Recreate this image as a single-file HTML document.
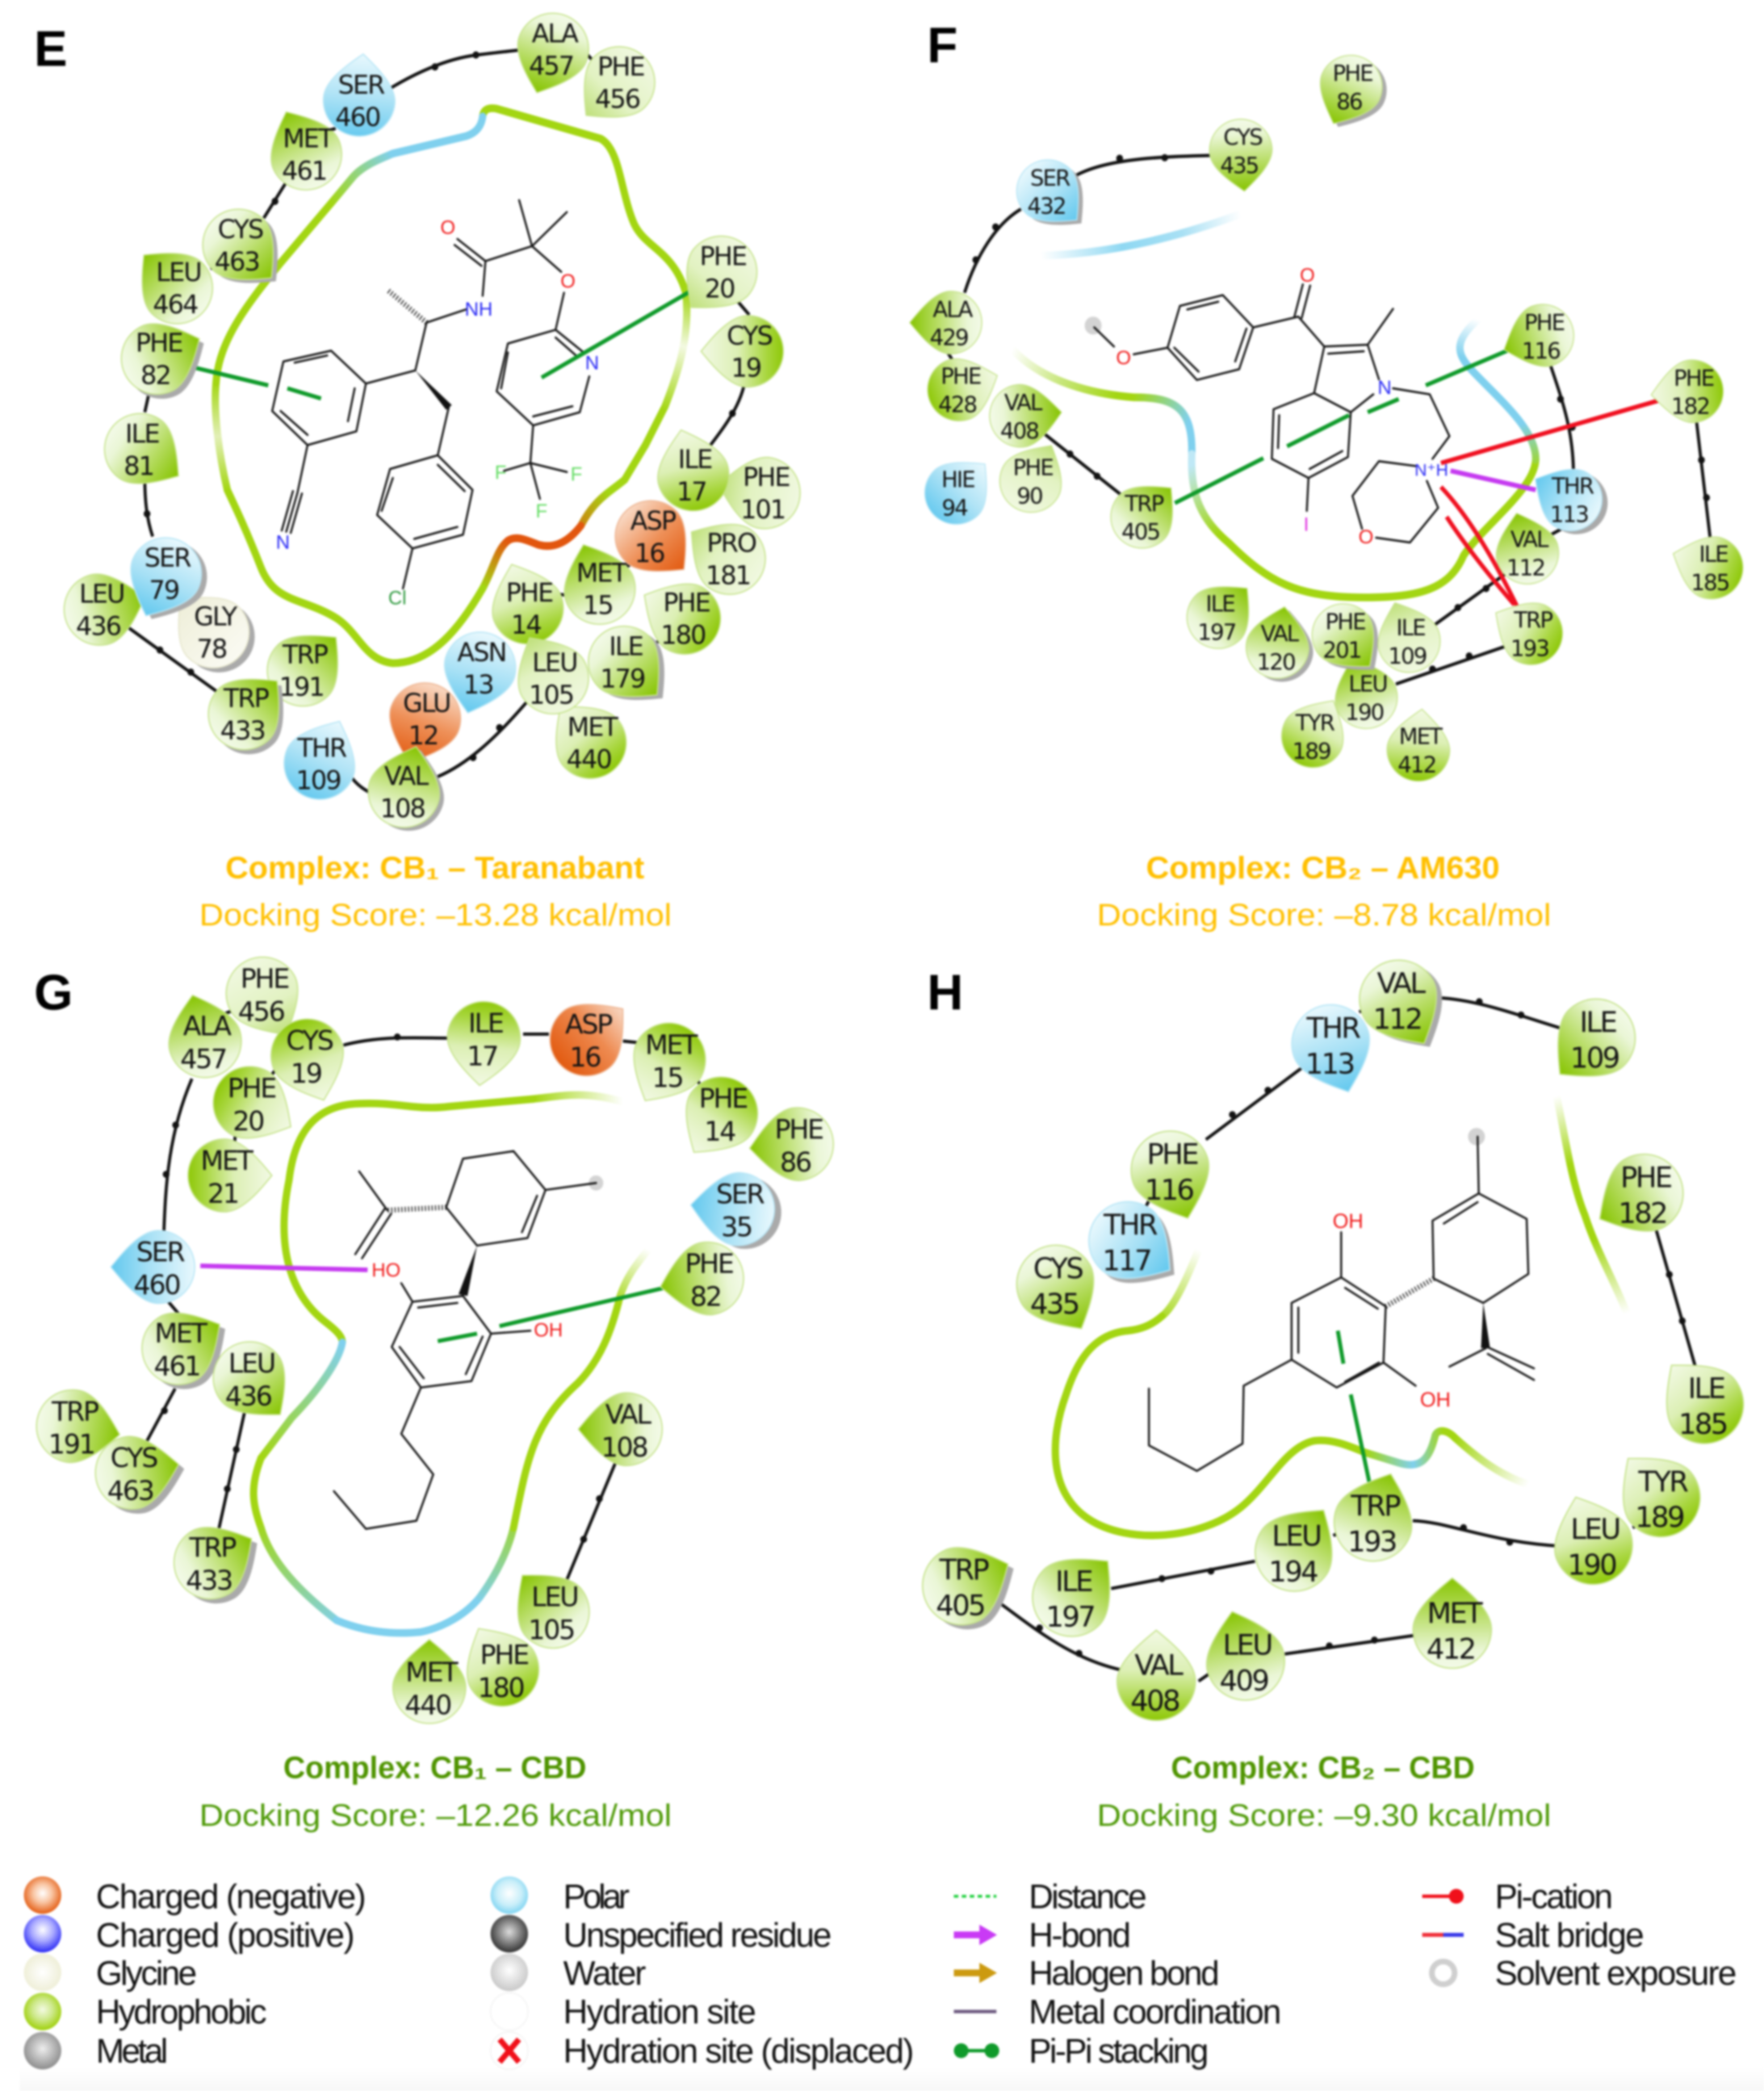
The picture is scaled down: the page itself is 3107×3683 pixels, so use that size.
<!DOCTYPE html>
<html><head><meta charset="utf-8"><style>
html,body{margin:0;padding:0;background:#fff}
svg{display:block;filter:blur(1.8px)}
text{font-family:"DejaVu Sans",sans-serif;text-anchor:middle;fill:#141414}
.E .u{transform:scale(1.0116,.9503)}.F .u{transform:scale(1.007,.9503)}
.G .u{transform:scale(1.0116,.98)}.H .u{transform:scale(1.007,.98)}
.E text{font-size:45px;letter-spacing:-2.5px}.F text{font-size:39px;letter-spacing:-2.5px}
.G text{font-size:47px;letter-spacing:-3px}.H text{font-size:50px;letter-spacing:-3.5px}
.gt{fill:url(#gt);stroke:#c6e38c;stroke-width:2}.go{fill:url(#go);stroke:#c6e38c;stroke-width:2}.gp{fill:url(#gp);stroke:#c6e38c;stroke-width:2}
.bt{fill:url(#bt);stroke:#b8e6f6;stroke-width:2}.bo{fill:url(#bo);stroke:#b8e6f6;stroke-width:2}
.ot{fill:url(#ot);stroke:#eeb795;stroke-width:2}.oo{fill:url(#oo);stroke:#eeb795;stroke-width:2}
.c{fill:url(#c);stroke:#e6e6cc;stroke-width:2}.s{fill:#aaa}
.l{fill:none;stroke:#111;stroke-width:5.5}.bd{fill:none;stroke:#111;stroke-width:12;stroke-linecap:round}
.m{fill:none;stroke:#151515;stroke-width:3.5;stroke-linecap:round;stroke-linejoin:round}
.hash{fill:none;stroke:#222;stroke-width:9;stroke-dasharray:2 4}
.w{fill:#111}
.r{fill:none;stroke-width:13;stroke-linecap:round;stroke:#a3d612}
.pi{fill:none;stroke:#0f9a2a;stroke-width:7}
.sol{fill:#bbb;opacity:.65}
g .lab{font-family:"Liberation Sans",sans-serif;font-size:34px;letter-spacing:0}
.rO{fill:#f01a1a}.nB{fill:#2a2af5}.fG{fill:#66dd66}.cG{fill:#2f9a3f}.iM{fill:#e034e0}
.ti{font-family:"Liberation Sans",sans-serif;font-weight:bold;font-size:55px}
.ds{font-family:"Liberation Sans",sans-serif;font-size:55px}
.le{font-family:"Liberation Sans",sans-serif;font-size:60px;text-anchor:start;fill:#111}
.pa{font-family:"Liberation Sans",sans-serif;font-weight:bold;font-size:88px;text-anchor:start;fill:#000}
</style></head><body>
<svg xmlns="http://www.w3.org/2000/svg" width="3107" height="3683" viewBox="0 0 3107 3683">
<defs>
<path id="d" d="M0 -78C22 -60 60 -30 60 0A60 60 0 1 1 -60 0C-60 -30 -22 -60 0 -78Z"/>
<linearGradient id="gt" x1="0" y1="0" x2="0" y2="1"><stop offset="0" stop-color="#86c400"/><stop offset=".38" stop-color="#b6dc62"/><stop offset=".8" stop-color="#eaf6d6"/><stop offset="1" stop-color="#f3fae8"/></linearGradient>
<linearGradient id="go" x1="0" y1="0" x2="0" y2="1"><stop offset="0" stop-color="#f2f9e4"/><stop offset=".45" stop-color="#dcefb4"/><stop offset=".8" stop-color="#a8d63e"/><stop offset="1" stop-color="#8ec808"/></linearGradient>
<linearGradient id="gp" x1="0" y1="0" x2="0" y2="1"><stop offset="0" stop-color="#bfe07a"/><stop offset=".4" stop-color="#e2f2c2"/><stop offset="1" stop-color="#f0f8e0"/></linearGradient>
<linearGradient id="bt" x1="0" y1="0" x2="0" y2="1"><stop offset="0" stop-color="#62c8ee"/><stop offset=".45" stop-color="#a6e0f5"/><stop offset="1" stop-color="#e8f8fd"/></linearGradient>
<linearGradient id="bo" x1="0" y1="0" x2="0" y2="1"><stop offset="0" stop-color="#e8f8fd"/><stop offset=".5" stop-color="#b2e4f6"/><stop offset="1" stop-color="#68caef"/></linearGradient>
<linearGradient id="ot" x1="0" y1="0" x2="0" y2="1"><stop offset="0" stop-color="#e25a10"/><stop offset=".5" stop-color="#ee9058"/><stop offset="1" stop-color="#f9d9c4"/></linearGradient>
<linearGradient id="oo" x1="0" y1="0" x2="0" y2="1"><stop offset="0" stop-color="#f8d8c4"/><stop offset=".45" stop-color="#ee8a50"/><stop offset="1" stop-color="#e25a10"/></linearGradient>
<linearGradient id="c" x1="0" y1="0" x2="0" y2="1"><stop offset="0" stop-color="#eeeed8"/><stop offset="1" stop-color="#fafaf2"/></linearGradient>
<radialGradient id="so" cx=".5" cy=".45" r=".55"><stop offset="0" stop-color="#fff"/><stop offset=".45" stop-color="#f9c6a4"/><stop offset="1" stop-color="#e45c12"/></radialGradient>
<radialGradient id="sb" cx=".5" cy=".4" r=".6"><stop offset="0" stop-color="#fff"/><stop offset=".5" stop-color="#a8a8ff"/><stop offset="1" stop-color="#2a2af5"/></radialGradient>
<radialGradient id="sc" cx=".5" cy=".5" r=".55"><stop offset="0" stop-color="#fff"/><stop offset="1" stop-color="#ededd4"/></radialGradient>
<radialGradient id="sg" cx=".5" cy=".45" r=".55"><stop offset="0" stop-color="#f4fae4"/><stop offset=".5" stop-color="#cde88a"/><stop offset="1" stop-color="#9ed008"/></radialGradient>
<radialGradient id="sm" cx=".5" cy=".45" r=".55"><stop offset="0" stop-color="#eee"/><stop offset="1" stop-color="#8c8c8c"/></radialGradient>
<radialGradient id="sp" cx=".5" cy=".45" r=".55"><stop offset="0" stop-color="#fff"/><stop offset=".6" stop-color="#c8eef9"/><stop offset="1" stop-color="#7fd4f2"/></radialGradient>
<radialGradient id="su" cx=".5" cy=".45" r=".55"><stop offset="0" stop-color="#ddd"/><stop offset="1" stop-color="#333"/></radialGradient>
<radialGradient id="sw" cx=".5" cy=".45" r=".55"><stop offset="0" stop-color="#fff"/><stop offset="1" stop-color="#c8c8c8"/></radialGradient>
<linearGradient id="e1" gradientUnits="userSpaceOnUse" x1="1222" y1="490" x2="1150" y2="745"><stop offset="0" stop-color="#a3d612"/><stop offset=".33" stop-color="#f3f9e2"/><stop offset=".75" stop-color="#a3d612"/></linearGradient>
<linearGradient id="e2" gradientUnits="userSpaceOnUse" x1="1080" y1="820" x2="1000" y2="905"><stop offset="0" stop-color="#a3d612"/><stop offset="1" stop-color="#e2560e"/></linearGradient>
<linearGradient id="e3" gradientUnits="userSpaceOnUse" x1="905" y1="905" x2="860" y2="985"><stop offset="0" stop-color="#e2560e"/><stop offset="1" stop-color="#a3d612"/></linearGradient>
<linearGradient id="e4" gradientUnits="userSpaceOnUse" x1="405" y1="820" x2="385" y2="640"><stop offset="0" stop-color="#a3d612"/><stop offset=".5" stop-color="#e2efb6"/><stop offset="1" stop-color="#a3d612"/></linearGradient>
<linearGradient id="e5" gradientUnits="userSpaceOnUse" x1="590" y1="340" x2="700" y2="257"><stop offset="0" stop-color="#a3d612"/><stop offset="1" stop-color="#7fd0ee"/></linearGradient>
<linearGradient id="f1" gradientUnits="userSpaceOnUse" x1="285" y1="428" x2="640" y2="358"><stop offset="0" stop-color="#fff"/><stop offset=".4" stop-color="#8fd8f2"/><stop offset=".7" stop-color="#a8e0f4"/><stop offset="1" stop-color="#fff"/></linearGradient>
<linearGradient id="f2" gradientUnits="userSpaceOnUse" x1="235" y1="585" x2="420" y2="660"><stop offset="0" stop-color="#fff"/><stop offset=".5" stop-color="#c7e67a"/><stop offset="1" stop-color="#a3d612"/></linearGradient>
<linearGradient id="f3" gradientUnits="userSpaceOnUse" x1="450" y1="660" x2="550" y2="700"><stop offset="0" stop-color="#a3d612"/><stop offset="1" stop-color="#7fd0ee"/></linearGradient>
<linearGradient id="f4" gradientUnits="userSpaceOnUse" x1="550" y1="780" x2="600" y2="895"><stop offset="0" stop-color="#bfe8f6"/><stop offset="1" stop-color="#a3d612"/></linearGradient>
<linearGradient id="f5" gradientUnits="userSpaceOnUse" x1="1160" y1="790" x2="1140" y2="710"><stop offset="0" stop-color="#a3d612"/><stop offset="1" stop-color="#7fd0ee"/></linearGradient>
<linearGradient id="f6" gradientUnits="userSpaceOnUse" x1="1040" y1="600" x2="1060" y2="535"><stop offset="0" stop-color="#7fd0ee"/><stop offset="1" stop-color="#fff"/></linearGradient>
<linearGradient id="g1" gradientUnits="userSpaceOnUse" x1="1110" y1="285" x2="950" y2="280"><stop offset="0" stop-color="#fff"/><stop offset="1" stop-color="#a3d612"/></linearGradient>
<linearGradient id="g2" gradientUnits="userSpaceOnUse" x1="605" y1="700" x2="470" y2="900"><stop offset="0" stop-color="#7fd0ee"/><stop offset="1" stop-color="#a3d612"/></linearGradient>
<linearGradient id="g3" gradientUnits="userSpaceOnUse" x1="465" y1="1000" x2="610" y2="1190"><stop offset="0" stop-color="#a3d612"/><stop offset="1" stop-color="#7fd0ee"/></linearGradient>
<linearGradient id="g4" gradientUnits="userSpaceOnUse" x1="850" y1="1150" x2="930" y2="980"><stop offset="0" stop-color="#7fd0ee"/><stop offset="1" stop-color="#a3d612"/></linearGradient>
<linearGradient id="g5" gradientUnits="userSpaceOnUse" x1="1100" y1="640" x2="1155" y2="540"><stop offset="0" stop-color="#a3d612"/><stop offset="1" stop-color="#fff"/></linearGradient>
<linearGradient id="h1" gradientUnits="userSpaceOnUse" x1="565" y1="540" x2="500" y2="670"><stop offset="0" stop-color="#fff"/><stop offset="1" stop-color="#a3d612"/></linearGradient>
<linearGradient id="h2" gradientUnits="userSpaceOnUse" x1="860" y1="890" x2="1000" y2="880"><stop offset="0" stop-color="#a3d612"/><stop offset=".6" stop-color="#7fd0ee"/><stop offset="1" stop-color="#a3d612"/></linearGradient>
<linearGradient id="h3" gradientUnits="userSpaceOnUse" x1="1020" y1="865" x2="1150" y2="945"><stop offset="0" stop-color="#a3d612"/><stop offset="1" stop-color="#fff"/></linearGradient>
<linearGradient id="h4" gradientUnits="userSpaceOnUse" x1="1200" y1="275" x2="1325" y2="650"><stop offset="0" stop-color="#fff"/><stop offset=".3" stop-color="#a3d612"/><stop offset=".65" stop-color="#a3d612"/><stop offset="1" stop-color="#fff"/></linearGradient>
<linearGradient id="bot" x1="0" y1="0" x2="0" y2="1"><stop offset="0" stop-color="#fff"/><stop offset="1" stop-color="#f7f7f7"/></linearGradient>
</defs>
<rect width="3107" height="3683" fill="#fff"/>

<!-- Panel E -->
<g class="E" transform="scale(.9885 1.0523)">
<path class="r" d="M860 195Q862 178 885 182L1070 232C1105 250 1105 320 1130 375C1150 415 1200 420 1222 490"/>
<path class="r" style="stroke:url(#e1)" d="M1222 490C1230 560 1210 620 1185 680L1150 745"/>
<path class="r" d="M1150 745L1113 803"/>
<path class="r" style="stroke:url(#e2)" d="M1113 803C1085 825 1060 835 1035 880"/>
<path class="r" style="stroke:#e2560e" d="M1035 880C1010 910 985 918 960 912C940 905 920 895 905 905"/>
<path class="r" style="stroke:url(#e3)" d="M905 905C885 920 880 950 860 985"/>
<path class="r" d="M860 985C820 1050 770 1110 700 1110C650 1105 640 1060 600 1035C540 1000 490 1010 465 950C440 890 420 850 405 820"/>
<path class="r" style="stroke:url(#e4)" d="M405 820C390 760 380 690 385 640"/>
<path class="r" d="M385 640C390 570 440 510 500 440L590 340"/>
<path class="r" style="stroke:url(#e5)" d="M590 340L630 295C650 275 680 265 700 257"/>
<path class="r" style="stroke:#7fd0ee" d="M700 257L830 228C850 222 858 210 860 195"/>
<path class="l" d="M695 148Q780 100 850 92T935 83M1045 90L1060 105M560 225L598 215M510 305L470 365M375 450L390 442M265 660L258 690M258 800C258 840 262 870 272 898M322 1005L332 1015M228 1050L390 1160M627 1302Q640 1318 662 1328M780 1300C830 1280 880 1240 945 1168M998 995L1015 997M1115 950L1130 940M1170 1075L1183 1070M1270 985L1280 975M1262 750C1290 715 1320 680 1328 635M1315 505L1335 527"/>
<path class="bd" d="M775 112h0M848 92h0M490 337h0M262 860h0M285 1088h0M340 1125h0M843 1268h0M890 1218h0M1305 692h0"/>
<path class="m" d="M505 605L590 587L652 642L635 722L548 745L485 688ZM525 607L583 595M632 650L620 705M548 728L500 688M652 642L740 620L760 540L830 518M860 495L865 437L948 412L925 335M948 412L1010 355M948 412L1000 455M865 437L815 400M858 445L810 410M1005 490L990 552L905 575L885 655L950 712L1033 690L1050 630M990 552L1040 590M905 590L893 650M950 697L1020 680M990 565L1030 598M950 712L945 775L898 788M945 775L1010 790M945 775L962 835M800 680L780 762L695 785L672 862L735 918L825 895L842 820L780 762M700 800L680 855M738 902L815 882M780 778L828 822M735 918L718 985M548 745L530 825M538 826L518 892M522 822L502 888M530 825L510 890"/>
<path class="hash" d="M760 540L690 485"/><path class="w" d="M740 620L805 678L795 686Z"/>
<g transform="translate(798 380)"><text class="u lab rO" dy="12">O</text></g>
<g transform="translate(1012 470)"><text class="u lab rO" dy="12">O</text></g>
<g transform="translate(853 517)"><text class="u lab nB" dy="12">NH</text></g>
<g transform="translate(1055 607)"><text class="u lab nB" dy="12">N</text></g>
<g transform="translate(504 907)"><text class="u lab nB" dy="12">N</text></g>
<g transform="translate(892 790)"><text class="u lab fG" dy="12">F</text></g>
<g transform="translate(1027 793)"><text class="u lab fG" dy="12">F</text></g>
<g transform="translate(965 855)"><text class="u lab fG" dy="12">F</text></g>
<g transform="translate(708 1000)"><text class="u lab cG" dy="12">Cl</text></g>
<path class="pi" d="M345 615L478 645M512 650L572 667M1235 485L965 632"/>
<g transform="translate(985 82)"><g class="u"><use class="gt" href="#d" transform="rotate(200) scale(1.05)"/><text x="3" y="-12">ALA</text><text x="-3" y="45">457</text></g></g>
<g transform="translate(1103 138)"><g class="u"><use class="gp" href="#d" transform="rotate(225) scale(1.05)"/><text x="3" y="-12">PHE</text><text x="-3" y="45">456</text></g></g>
<g transform="translate(640 168)"><g class="u"><use class="bo" href="#d" transform="rotate(5) scale(1.05)"/><text x="3" y="-12">SER</text><text x="-3" y="45">460</text></g></g>
<g transform="translate(545 258)"><g class="u"><use class="gt" href="#d" transform="rotate(335) scale(1.05)"/><text x="3" y="-12">MET</text><text x="-3" y="45">461</text></g></g>
<g transform="translate(425 410)"><g class="u"><use class="s" href="#d" transform="translate(8 6) rotate(135) scale(1.05)"/><use class="gt" href="#d" transform="rotate(135) scale(1.05)"/><text x="3" y="-12">CYS</text><text x="-3" y="45">463</text></g></g>
<g transform="translate(315 482)"><g class="u"><use class="gt" href="#d" transform="rotate(315) scale(1.05)"/><text x="3" y="-12">LEU</text><text x="-3" y="45">464</text></g></g>
<g transform="translate(280 600)"><g class="u"><use class="s" href="#d" transform="translate(8 8) rotate(65) scale(1.05)"/><use class="gt" href="#d" transform="rotate(65) scale(1.05)"/><text x="3" y="-12">PHE</text><text x="-3" y="45">82</text></g></g>
<g transform="translate(250 752)"><g class="u"><use class="gt" href="#d" transform="rotate(125) scale(1.05)"/><text x="3" y="-12">ILE</text><text x="-3" y="45">81</text></g></g>
<g transform="translate(178 1020)"><g class="u"><use class="gt" href="#d" transform="rotate(75) scale(1.05)"/><text x="3" y="-12">LEU</text><text x="-3" y="45">436</text></g></g>
<g transform="translate(380 1058)"><g class="u"><use class="s" href="#d" transform="translate(10 8) rotate(315) scale(1.05)"/><use class="c" href="#d" transform="rotate(315) scale(1.05)"/><text x="3" y="-12">GLY</text><text x="-3" y="45">78</text></g></g>
<g transform="translate(295 960)"><g class="u"><use class="s" href="#d" transform="translate(10 6) rotate(205) scale(1.05)"/><use class="bt" href="#d" transform="rotate(205) scale(1.05)"/><text x="3" y="-12">SER</text><text x="-3" y="45">79</text></g></g>
<g transform="translate(540 1122)"><g class="u"><use class="gt" href="#d" transform="rotate(45) scale(1.05)"/><text x="3" y="-12">TRP</text><text x="-3" y="45">191</text></g></g>
<g transform="translate(435 1195)"><g class="u"><use class="s" href="#d" transform="translate(8 8) rotate(45) scale(1.05)"/><use class="gt" href="#d" transform="rotate(45) scale(1.05)"/><text x="3" y="-12">TRP</text><text x="-3" y="45">433</text></g></g>
<g transform="translate(570 1278)"><g class="u"><use class="bo" href="#d" transform="rotate(25) scale(1.05)"/><text x="3" y="-12">THR</text><text x="-3" y="45">109</text></g></g>
<g transform="translate(757 1203)"><g class="u"><use class="ot" href="#d" transform="rotate(200) scale(1.05)"/><text x="3" y="-12">GLU</text><text x="-3" y="45">12</text></g></g>
<g transform="translate(720 1325)"><g class="u"><use class="s" href="#d" transform="translate(8 6) rotate(15) scale(1.05)"/><use class="gt" href="#d" transform="rotate(15) scale(1.05)"/><text x="3" y="-12">VAL</text><text x="-3" y="45">108</text></g></g>
<g transform="translate(855 1118)"><g class="u"><use class="bt" href="#d" transform="rotate(195) scale(1.05)"/><text x="3" y="-12">ASN</text><text x="-3" y="45">13</text></g></g>
<g transform="translate(1052 1243)"><g class="u"><use class="go" href="#d" transform="rotate(320) scale(1.05)"/><text x="3" y="-12">MET</text><text x="-3" y="45">440</text></g></g>
<g transform="translate(940 1018)"><g class="u"><use class="go" href="#d" transform="rotate(340) scale(1.05)"/><text x="3" y="-12">PHE</text><text x="-3" y="45">14</text></g></g>
<g transform="translate(985 1135)"><g class="u"><use class="gp" href="#d" transform="rotate(330) scale(1.05)"/><text x="3" y="-12">LEU</text><text x="-3" y="45">105</text></g></g>
<g transform="translate(1112 1108)"><g class="u"><use class="s" href="#d" transform="translate(10 6) rotate(135) scale(1.05)"/><use class="gt" href="#d" transform="rotate(135) scale(1.05)"/><text x="3" y="-12">ILE</text><text x="-3" y="45">179</text></g></g>
<g transform="translate(1220 1035)"><g class="u"><use class="go" href="#d" transform="rotate(300) scale(1.05)"/><text x="3" y="-12">PHE</text><text x="-3" y="45">180</text></g></g>
<g transform="translate(1068 985)"><g class="u"><use class="gt" href="#d" transform="rotate(340) scale(1.05)"/><text x="3" y="-12">MET</text><text x="-3" y="45">15</text></g></g>
<g transform="translate(1300 935)"><g class="u"><use class="gp" href="#d" transform="rotate(305) scale(1.05)"/><text x="3" y="-12">PRO</text><text x="-3" y="45">181</text></g></g>
<g transform="translate(1362 825)"><g class="u"><use class="gp" href="#d" transform="rotate(280) scale(1.05)"/><text x="3" y="-12">PHE</text><text x="-3" y="45">101</text></g></g>
<g transform="translate(1235 795)"><g class="u"><use class="go" href="#d" transform="rotate(345) scale(1.05)"/><text x="3" y="-12">ILE</text><text x="-3" y="45">17</text></g></g>
<g transform="translate(1160 898)"><g class="u"><use class="ot" href="#d" transform="rotate(135) scale(1.05)"/><text x="3" y="-12">ASP</text><text x="-3" y="45">16</text></g></g>
<g transform="translate(1332 588)"><g class="u"><use class="go" href="#d" transform="rotate(270) scale(1.05)"/><text x="3" y="-12">CYS</text><text x="-3" y="45">19</text></g></g>
<g transform="translate(1285 455)"><g class="u"><use class="gp" href="#d" transform="rotate(220) scale(1.05)"/><text x="3" y="-12">PHE</text><text x="-3" y="45">20</text></g></g>
</g>

<!-- Panel F -->
<g class="F" transform="translate(1550 0) scale(.993 1.0523)">
<path class="r" style="stroke:url(#f1)" d="M285 428C400 425 520 400 640 358"/>
<path class="r" style="stroke:url(#f2)" d="M235 585C290 640 380 660 450 665"/>
<path class="r" style="stroke:url(#f3)" d="M450 665C520 665 555 680 553 760"/>
<path class="r" style="stroke:url(#f4)" d="M553 760C550 830 570 870 620 910"/>
<path class="r" d="M620 910C690 975 740 1000 860 1000C960 1000 1010 985 1035 930C1070 880 1160 820 1163 770"/>
<path class="r" style="stroke:url(#f5)" d="M1163 770C1165 720 1100 670 1050 620"/>
<path class="r" style="stroke:url(#f6)" d="M1050 620C1020 590 1020 570 1060 535"/>
<path class="l" d="M345 295C400 265 500 262 595 260M250 350C205 375 170 430 150 490M120 590L130 605M290 725L430 830M1187 605C1210 670 1230 720 1230 795M1190 895L1215 882M985 1045L1110 960M915 1145L1115 1080M1448 703L1473 905"/>
<path class="bd" d="M425 265h0M505 264h0M205 380h0M170 435h0M337 760h0M385 797h0M1207 668h0M1228 715h0M1025 1017h0M1075 985h0M980 1120h0M1045 1098h0M1457 770h0M1466 833h0"/>
<circle class="sol" cx="378" cy="545" r="15"/>
<path class="m" d="M532 512L608 494L662 548L637 618L562 636L510 582ZM545 518L600 505M650 550L630 605M565 622L522 582M510 582L450 593M415 580L380 548M662 548L742 530L788 580L865 577L885 635M748 532L763 478M735 530L750 476M795 592L858 588M865 577L910 517M875 660L835 690L770 658L788 580M770 658L698 685L695 768L760 800L830 765L835 690M708 695L706 750M762 785L820 755M760 800L757 855M910 650L975 660L1010 730L980 768M950 780L885 772L838 830L855 885M880 900L940 908L990 850L970 805"/>
<g transform="translate(758 460)"><text class="u lab rO" dy="12">O</text></g>
<g transform="translate(432 598)"><text class="u lab rO" dy="12">O</text></g>
<g transform="translate(862 898)"><text class="u lab rO" dy="12">O</text></g>
<g transform="translate(895 648)"><text class="u lab nB" dy="12">N</text></g>
<g transform="translate(978 785)"><text class="u lab nB" dy="12" style="font-size:30px">N⁺H</text></g>
<g transform="translate(756 877)"><text class="u lab iM" dy="12">I</text></g>
<path class="pi" d="M523 842L680 767M722 747L832 695M865 690L920 668M968 645L1130 580"/>
<path fill="none" stroke="#c53af0" stroke-width="8" d="M1012 788L1163 820"/>
<path fill="none" stroke="#f01020" stroke-width="7.5" d="M995 775L1390 668M995 815Q1060 880 1130 1015M1005 865Q1050 930 1125 1012"/>
<g transform="translate(835 145)"><g class="u"><use class="s" href="#d" transform="translate(8 6) rotate(205) scale(.92)"/><use class="gt" href="#d" transform="rotate(205) scale(.92)"/><text x="3" y="-10">PHE</text><text x="-3" y="40">86</text></g></g>
<g transform="translate(640 252)"><g class="u"><use class="gt" href="#d" transform="rotate(175) scale(.92)"/><text x="3" y="-10">CYS</text><text x="-3" y="40">435</text></g></g>
<g transform="translate(298 320)"><g class="u"><use class="s" href="#d" transform="translate(8 6) rotate(135) scale(.92)"/><use class="bt" href="#d" transform="rotate(135) scale(.92)"/><text x="3" y="-10">SER</text><text x="-3" y="40">432</text></g></g>
<g transform="translate(125 540)"><g class="u"><use class="gt" href="#d" transform="rotate(270) scale(.92)"/><text x="3" y="-10">ALA</text><text x="-3" y="40">429</text></g></g>
<g transform="translate(140 652)"><g class="u"><use class="go" href="#d" transform="rotate(70) scale(.92)"/><text x="3" y="-10">PHE</text><text x="-3" y="40">428</text></g></g>
<g transform="translate(250 696)"><g class="u"><use class="gt" href="#d" transform="rotate(85) scale(.92)"/><text x="3" y="-10">VAL</text><text x="-3" y="40">408</text></g></g>
<g transform="translate(268 805)"><g class="u"><use class="gp" href="#d" transform="rotate(30) scale(.92)"/><text x="3" y="-10">PHE</text><text x="-3" y="40">90</text></g></g>
<g transform="translate(135 825)"><g class="u"><use class="bo" href="#d" transform="rotate(45) scale(.92)"/><text x="3" y="-10">HIE</text><text x="-3" y="40">94</text></g></g>
<g transform="translate(465 865)"><g class="u"><use class="gt" href="#d" transform="rotate(45) scale(.92)"/><text x="3" y="-10">TRP</text><text x="-3" y="40">405</text></g></g>
<g transform="translate(1175 562)"><g class="u"><use class="gt" href="#d" transform="rotate(250) scale(.92)"/><text x="3" y="-10">PHE</text><text x="-3" y="40">116</text></g></g>
<g transform="translate(1440 655)"><g class="u"><use class="go" href="#d" transform="rotate(265) scale(.92)"/><text x="3" y="-10">PHE</text><text x="-3" y="40">182</text></g></g>
<g transform="translate(1225 836)"><g class="u"><use class="s" href="#d" transform="translate(10 6) rotate(300) scale(.92)"/><use class="bt" href="#d" transform="rotate(300) scale(.92)"/><text x="3" y="-10">THR</text><text x="-3" y="40">113</text></g></g>
<g transform="translate(1148 925)"><g class="u"><use class="gt" href="#d" transform="rotate(345) scale(.92)"/><text x="3" y="-10">VAL</text><text x="-3" y="40">112</text></g></g>
<g transform="translate(1475 950)"><g class="u"><use class="go" href="#d" transform="rotate(290) scale(.92)"/><text x="3" y="-10">ILE</text><text x="-3" y="40">185</text></g></g>
<g transform="translate(1155 1060)"><g class="u"><use class="go" href="#d" transform="rotate(300) scale(.92)"/><text x="3" y="-10">TRP</text><text x="-3" y="40">193</text></g></g>
<g transform="translate(600 1033)"><g class="u"><use class="gt" href="#d" transform="rotate(45) scale(.92)"/><text x="3" y="-10">ILE</text><text x="-3" y="40">197</text></g></g>
<g transform="translate(705 1083)"><g class="u"><use class="s" href="#d" transform="translate(8 6) rotate(10) scale(.92)"/><use class="gt" href="#d" transform="rotate(10) scale(.92)"/><text x="3" y="-10">VAL</text><text x="-3" y="40">120</text></g></g>
<g transform="translate(862 1167)"><g class="u"><use class="gt" href="#d" transform="rotate(340) scale(.92)"/><text x="3" y="-10">LEU</text><text x="-3" y="40">190</text></g></g>
<g transform="translate(822 1063)"><g class="u"><use class="s" href="#d" transform="translate(8 6) rotate(140) scale(.92)"/><use class="gt" href="#d" transform="rotate(140) scale(.92)"/><text x="3" y="-10">PHE</text><text x="-3" y="40">201</text></g></g>
<g transform="translate(938 1073)"><g class="u"><use class="gp" href="#d" transform="rotate(340) scale(.92)"/><text x="3" y="-10">ILE</text><text x="-3" y="40">109</text></g></g>
<g transform="translate(768 1232)"><g class="u"><use class="go" href="#d" transform="rotate(30) scale(.92)"/><text x="3" y="-10">TYR</text><text x="-3" y="40">189</text></g></g>
<g transform="translate(955 1255)"><g class="u"><use class="go" href="#d" transform="rotate(5) scale(.92)"/><text x="3" y="-10">MET</text><text x="-3" y="40">412</text></g></g>
</g>

<!-- Panel G -->
<g class="G" transform="translate(0 1650) scale(.9885 1.0204)">
<path class="r" style="stroke:url(#g1)" d="M1110 285C1040 265 1000 275 950 280"/>
<path class="r" d="M950 280L800 293C740 300 710 285 640 288C560 290 525 340 515 420C490 540 520 620 580 665C600 680 610 690 610 700"/>
<path class="r" style="stroke:url(#g2)" d="M610 700C605 730 570 780 520 830L465 900"/>
<path class="r" d="M465 900C445 950 450 980 465 1020"/>
<path class="r" style="stroke:url(#g3)" d="M465 1020C480 1070 520 1120 600 1180"/>
<path class="r" style="stroke:#7fd0ee" d="M600 1180C650 1200 700 1205 750 1200C790 1192 830 1170 855 1140"/>
<path class="r" style="stroke:url(#g4)" d="M855 1140C885 1100 905 1060 915 1020"/>
<path class="r" d="M915 1020C940 900 950 840 1030 770C1070 730 1090 680 1105 620"/>
<path class="r" style="stroke:url(#g5)" d="M1105 620C1115 590 1130 570 1155 540"/>
<path class="l" d="M380 140L430 122M292 510C295 430 300 340 342 245M485 237L497 222M420 335L418 355M612 187C680 170 740 175 808 175M932 168L978 168M1110 180L1140 183M1240 245L1250 258M300 630L322 655M312 780L262 870M437 815L390 1022M1100 900L1010 1110"/>
<path class="bd" d="M296 410h0M313 325h0M708 173h0M293 818h0M421 885h0M405 953h0M1068 970h0M1040 1040h0"/>
<circle class="sol" cx="1062" cy="425" r="13"/>
<path class="m" d="M795 467L825 383L915 370L972 437L940 520L850 533ZM957 447L930 510M972 437L1062 425M690 472L640 405M685 470L633 548M697 478L645 555M825 620L735 630L698 708L750 778L840 767L875 685ZM745 640L815 632M712 708L755 762M830 755L860 690M735 630L715 598M875 685L945 680M750 778L715 858L772 928L742 1008L652 1022L595 957"/>
<path class="hash" d="M795 467L690 472"/><path class="w" d="M850 533L833 620L817 617Z"/>
<g transform="translate(688 575)"><text class="u lab rO" dy="12">HO</text></g>
<g transform="translate(977 678)"><text class="u lab rO" dy="12">OH</text></g>
<path fill="none" stroke="#c53af0" stroke-width="8" d="M357 568L655 575"/>
<path class="pi" d="M780 698L850 685M890 672L1197 603"/>
<g transform="translate(468 98)"><g class="u"><use class="gp" href="#d" transform="rotate(150) scale(1.07)"/><text x="3" y="-10">PHE</text><text x="-3" y="48">456</text></g></g>
<g transform="translate(400 412)"><g class="u"><use class="go" href="#d" transform="rotate(90) scale(1.07)"/><text x="3" y="-10">MET</text><text x="-3" y="48">21</text></g></g>
<g transform="translate(445 287)"><g class="u"><use class="go" href="#d" transform="rotate(120) scale(1.07)"/><text x="3" y="-10">PHE</text><text x="-3" y="48">20</text></g></g>
<g transform="translate(365 180)"><g class="u"><use class="gt" href="#d" transform="rotate(345) scale(1.07)"/><text x="3" y="-10">ALA</text><text x="-3" y="48">457</text></g></g>
<g transform="translate(548 205)"><g class="u"><use class="go" href="#d" transform="rotate(160) scale(1.07)"/><text x="3" y="-10">CYS</text><text x="-3" y="48">19</text></g></g>
<g transform="translate(862 175)"><g class="u"><use class="go" href="#d" transform="rotate(185) scale(1.07)"/><text x="3" y="-10">ILE</text><text x="-3" y="48">17</text></g></g>
<g transform="translate(1045 177)"><g class="u"><use class="oo" href="#d" transform="rotate(50) scale(1.07)"/><text x="3" y="-10">ASP</text><text x="-3" y="48">16</text></g></g>
<g transform="translate(1192 212)"><g class="u"><use class="go" href="#d" transform="rotate(210) scale(1.07)"/><text x="3" y="-10">MET</text><text x="-3" y="48">15</text></g></g>
<g transform="translate(1285 305)"><g class="u"><use class="go" href="#d" transform="rotate(215) scale(1.07)"/><text x="3" y="-10">PHE</text><text x="-3" y="48">14</text></g></g>
<g transform="translate(1420 358)"><g class="u"><use class="gt" href="#d" transform="rotate(265) scale(1.07)"/><text x="3" y="-10">PHE</text><text x="-3" y="48">86</text></g></g>
<g transform="translate(1315 470)"><g class="u"><use class="s" href="#d" transform="translate(12 6) rotate(275) scale(1.07)"/><use class="bt" href="#d" transform="rotate(275) scale(1.07)"/><text x="3" y="-10">SER</text><text x="-3" y="48">35</text></g></g>
<g transform="translate(1260 590)"><g class="u"><use class="gt" href="#d" transform="rotate(260) scale(1.07)"/><text x="3" y="-10">PHE</text><text x="-3" y="48">82</text></g></g>
<g transform="translate(282 570)"><g class="u"><use class="bt" href="#d" transform="rotate(270) scale(1.07)"/><text x="3" y="-10">SER</text><text x="-3" y="48">460</text></g></g>
<g transform="translate(318 710)"><g class="u"><use class="s" href="#d" transform="translate(10 8) rotate(60) scale(1.07)"/><use class="gt" href="#d" transform="rotate(60) scale(1.07)"/><text x="3" y="-10">MET</text><text x="-3" y="48">461</text></g></g>
<g transform="translate(445 762)"><g class="u"><use class="gt" href="#d" transform="rotate(140) scale(1.07)"/><text x="3" y="-10">LEU</text><text x="-3" y="48">436</text></g></g>
<g transform="translate(130 845)"><g class="u"><use class="gt" href="#d" transform="rotate(100) scale(1.07)"/><text x="3" y="-10">TRP</text><text x="-3" y="48">191</text></g></g>
<g transform="translate(235 925)"><g class="u"><use class="s" href="#d" transform="translate(10 8) rotate(80) scale(1.07)"/><use class="gt" href="#d" transform="rotate(80) scale(1.07)"/><text x="3" y="-10">CYS</text><text x="-3" y="48">463</text></g></g>
<g transform="translate(375 1080)"><g class="u"><use class="s" href="#d" transform="translate(10 8) rotate(60) scale(1.07)"/><use class="gt" href="#d" transform="rotate(60) scale(1.07)"/><text x="3" y="-10">TRP</text><text x="-3" y="48">433</text></g></g>
<g transform="translate(1115 850)"><g class="u"><use class="gt" href="#d" transform="rotate(270) scale(1.07)"/><text x="3" y="-10">VAL</text><text x="-3" y="48">108</text></g></g>
<g transform="translate(985 1165)"><g class="u"><use class="gt" href="#d" transform="rotate(320) scale(1.07)"/><text x="3" y="-10">LEU</text><text x="-3" y="48">105</text></g></g>
<g transform="translate(895 1265)"><g class="u"><use class="go" href="#d" transform="rotate(330) scale(1.07)"/><text x="3" y="-10">PHE</text><text x="-3" y="48">180</text></g></g>
<g transform="translate(765 1295)"><g class="u"><use class="gt" href="#d" transform="rotate(0) scale(1.07)"/><text x="3" y="-10">MET</text><text x="-3" y="48">440</text></g></g>
</g>

<!-- Panel H -->
<g class="H" transform="translate(1550 1650) scale(.993 1.0204)">
<path class="r" style="stroke:url(#h1)" d="M565 540C540 600 520 640 500 655"/>
<path class="r" d="M500 655C480 672 460 678 440 680C380 685 350 730 330 790C300 870 300 960 370 1005C440 1050 570 1040 640 985C690 945 720 880 770 870C800 866 830 878 860 890"/>
<path class="r" style="stroke:url(#h2)" d="M860 890L920 908C960 920 975 900 985 860C990 850 1005 850 1020 865"/>
<path class="r" style="stroke:url(#h3)" d="M1020 865C1060 900 1100 930 1150 945"/>
<path class="r" style="stroke:url(#h4)" d="M1200 275C1215 340 1225 420 1250 480C1270 540 1300 590 1325 650"/>
<path class="l" d="M850 130L860 125M750 225L578 350M485 440L472 465M985 105C1060 108 1130 135 1215 160M1375 500L1447 745M1335 1020L1345 1015M945 1008C1010 1010 1080 1045 1210 1052M805 1030L808 1035M410 1125L665 1078M205 1145C270 1190 340 1250 440 1268M565 1285L590 1268M718 1238L955 1205"/>
<path class="bd" d="M688 265h0M625 307h0M1063 112h0M1137 135h0M1400 583h0M1423 663h0M1035 1020h0M1117 1045h0M500 1108h0M587 1095h0M283 1193h0M353 1237h0M797 1224h0M877 1214h0"/>
<circle class="sol" cx="1058" cy="345" r="15"/>
<path class="m" d="M818 588L897 638L893 735L810 778L730 730L730 632ZM825 606L883 642M885 735L825 768M742 718L742 640M818 588L818 510M893 735L950 775M730 730L645 775L643 875L562 922L477 878L477 780M982 590L980 490L1062 443L1147 487L1150 582L1070 632ZM1000 495L1060 458M1062 443L1060 345M1075 710L1010 742M1070 705L1160 745M1078 720L1160 765"/>
<path class="hash" d="M897 638L982 590"/><path class="w" d="M1070 632L1082 710L1066 710Z"/>
<g transform="translate(830 490)"><text class="u lab rO" dy="13" style="font-size:36px">OH</text></g>
<g transform="translate(985 798)"><text class="u lab rO" dy="13" style="font-size:36px">OH</text></g>
<path class="pi" d="M812 680L822 737M835 790L868 942"/>
<g transform="translate(920 108)"><g class="u"><use class="s" href="#d" transform="translate(10 6) rotate(150) scale(1.15)"/><use class="gt" href="#d" transform="rotate(150) scale(1.15)"/><text x="3" y="-11">VAL</text><text x="-3" y="52">112</text></g></g>
<g transform="translate(800 185)"><g class="u"><use class="bt" href="#d" transform="rotate(160) scale(1.15)"/><text x="3" y="-11">THR</text><text x="-3" y="52">113</text></g></g>
<g transform="translate(1270 175)"><g class="u"><use class="gt" href="#d" transform="rotate(225) scale(1.15)"/><text x="3" y="-11">ILE</text><text x="-3" y="52">109</text></g></g>
<g transform="translate(515 403)"><g class="u"><use class="gt" href="#d" transform="rotate(160) scale(1.15)"/><text x="3" y="-11">PHE</text><text x="-3" y="52">116</text></g></g>
<g transform="translate(312 600)"><g class="u"><use class="gt" href="#d" transform="rotate(150) scale(1.15)"/><text x="3" y="-11">CYS</text><text x="-3" y="52">435</text></g></g>
<g transform="translate(440 525)"><g class="u"><use class="s" href="#d" transform="translate(8 8) rotate(125) scale(1.15)"/><use class="bt" href="#d" transform="rotate(125) scale(1.15)"/><text x="3" y="-11">THR</text><text x="-3" y="52">117</text></g></g>
<g transform="translate(1355 443)"><g class="u"><use class="gt" href="#d" transform="rotate(240) scale(1.15)"/><text x="3" y="-11">PHE</text><text x="-3" y="52">182</text></g></g>
<g transform="translate(1462 807)"><g class="u"><use class="go" href="#d" transform="rotate(320) scale(1.15)"/><text x="3" y="-11">ILE</text><text x="-3" y="52">185</text></g></g>
<g transform="translate(1385 968)"><g class="u"><use class="go" href="#d" transform="rotate(320) scale(1.15)"/><text x="3" y="-11">TYR</text><text x="-3" y="52">189</text></g></g>
<g transform="translate(1265 1050)"><g class="u"><use class="go" href="#d" transform="rotate(340) scale(1.15)"/><text x="3" y="-11">LEU</text><text x="-3" y="52">190</text></g></g>
<g transform="translate(875 1010)"><g class="u"><use class="gt" href="#d" transform="rotate(20) scale(1.15)"/><text x="3" y="-11">TRP</text><text x="-3" y="52">193</text></g></g>
<g transform="translate(735 1062)"><g class="u"><use class="gt" href="#d" transform="rotate(35) scale(1.15)"/><text x="3" y="-11">LEU</text><text x="-3" y="52">194</text></g></g>
<g transform="translate(340 1140)"><g class="u"><use class="gt" href="#d" transform="rotate(45) scale(1.15)"/><text x="3" y="-11">ILE</text><text x="-3" y="52">197</text></g></g>
<g transform="translate(145 1120)"><g class="u"><use class="s" href="#d" transform="translate(10 8) rotate(65) scale(1.15)"/><use class="gt" href="#d" transform="rotate(65) scale(1.15)"/><text x="3" y="-11">TRP</text><text x="-3" y="52">405</text></g></g>
<g transform="translate(490 1285)"><g class="u"><use class="go" href="#d" transform="rotate(0) scale(1.15)"/><text x="3" y="-11">VAL</text><text x="-3" y="52">408</text></g></g>
<g transform="translate(648 1250)"><g class="u"><use class="gt" href="#d" transform="rotate(345) scale(1.15)"/><text x="3" y="-11">LEU</text><text x="-3" y="52">409</text></g></g>
<g transform="translate(1015 1195)"><g class="u"><use class="gt" href="#d" transform="rotate(0) scale(1.15)"/><text x="3" y="-11">MET</text><text x="-3" y="52">412</text></g></g>
</g>

<!-- Panel letters and captions -->
<text class="pa" x="60" y="116">E</text>
<text class="pa" x="1633" y="110">F</text>
<text class="pa" x="60" y="1778">G</text>
<text class="pa" x="1633" y="1778">H</text>
<text class="ti" x="766" y="1547" textLength="738" lengthAdjust="spacingAndGlyphs" style="fill:#ffbf00">Complex: CB₁ – Taranabant</text>
<text class="ds" x="767" y="1630" textLength="832" lengthAdjust="spacingAndGlyphs" style="fill:#ffc000">Docking Score: –13.28 kcal/mol</text>
<text class="ti" x="2330" y="1547" textLength="623" lengthAdjust="spacingAndGlyphs" style="fill:#ffbf00">Complex: CB₂ – AM630</text>
<text class="ds" x="2332" y="1630" textLength="800" lengthAdjust="spacingAndGlyphs" style="fill:#ffc000">Docking Score: –8.78 kcal/mol</text>
<text class="ti" x="766" y="3132" textLength="534" lengthAdjust="spacingAndGlyphs" style="fill:#4f9400">Complex: CB₁ – CBD</text>
<text class="ds" x="767" y="3216" textLength="832" lengthAdjust="spacingAndGlyphs" style="fill:#4f9a08">Docking Score: –12.26 kcal/mol</text>
<text class="ti" x="2330" y="3132" textLength="535" lengthAdjust="spacingAndGlyphs" style="fill:#4f9400">Complex: CB₂ – CBD</text>
<text class="ds" x="2332" y="3216" textLength="800" lengthAdjust="spacingAndGlyphs" style="fill:#4f9a08">Docking Score: –9.30 kcal/mol</text>

<!-- Legend -->
<rect x="35" y="3640" width="3072" height="43" fill="url(#bot)"/>
<circle cx="75" cy="3338" r="33" fill="url(#so)"/>
<circle cx="75" cy="3406" r="33" fill="url(#sb)"/>
<circle cx="75" cy="3474" r="33" fill="url(#sc)"/>
<circle cx="75" cy="3543" r="33" fill="url(#sg)"/>
<circle cx="75" cy="3612" r="33" fill="url(#sm)"/>
<circle cx="897" cy="3338" r="33" fill="url(#sp)"/>
<circle cx="897" cy="3406" r="33" fill="url(#su)"/>
<circle cx="897" cy="3474" r="33" fill="url(#sw)"/>
<circle cx="897" cy="3543" r="33" fill="#fff" stroke="#f2f2f2" stroke-width="2"/>
<circle cx="897" cy="3612" r="33" fill="#fff" stroke="#f2f2f2" stroke-width="2"/>
<path d="M880 3592L914 3632M914 3592L880 3632" stroke="#f0101a" stroke-width="10" fill="none"/>
<text class="le" x="169" y="3361" textLength="476">Charged (negative)</text>
<text class="le" x="169" y="3429" textLength="456">Charged (positive)</text>
<text class="le" x="169" y="3496" textLength="178">Glycine</text>
<text class="le" x="169" y="3564" textLength="301">Hydrophobic</text>
<text class="le" x="169" y="3633" textLength="127">Metal</text>
<text class="le" x="992" y="3361" textLength="117">Polar</text>
<text class="le" x="992" y="3429" textLength="473">Unspecified residue</text>
<text class="le" x="992" y="3496" textLength="146">Water</text>
<text class="le" x="992" y="3564" textLength="340">Hydration site</text>
<text class="le" x="992" y="3633" textLength="618">Hydration site (displaced)</text>
<text class="le" x="1812" y="3361" textLength="208">Distance</text>
<text class="le" x="1812" y="3429" textLength="180">H-bond</text>
<text class="le" x="1812" y="3496" textLength="336">Halogen bond</text>
<text class="le" x="1812" y="3564" textLength="445">Metal coordination</text>
<text class="le" x="1812" y="3633" textLength="317">Pi-Pi stacking</text>
<text class="le" x="2633" y="3361" textLength="208">Pi-cation</text>
<text class="le" x="2633" y="3429" textLength="263">Salt bridge</text>
<text class="le" x="2633" y="3496" textLength="426">Solvent exposure</text>
<path d="M1680 3340H1755" stroke="#22d040" stroke-width="5" stroke-dasharray="8 6" fill="none"/>
<path d="M1680 3408H1730" stroke="#c93af5" stroke-width="12" fill="none"/><path d="M1725 3390L1756 3408L1725 3426Z" fill="#c93af5"/>
<path d="M1680 3475H1730" stroke="#cc9a10" stroke-width="12" fill="none"/><path d="M1725 3457L1756 3475L1725 3493Z" fill="#cc9a10"/>
<path d="M1680 3543H1755" stroke="#6d5a80" stroke-width="6" fill="none"/>
<path d="M1690 3612H1750" stroke="#0f9a2a" stroke-width="6" fill="none"/><circle cx="1693" cy="3612" r="13" fill="#0f9a2a"/><circle cx="1747" cy="3612" r="13" fill="#0f9a2a"/>
<path d="M2505 3340H2560" stroke="#f0101a" stroke-width="6" fill="none"/><circle cx="2565" cy="3340" r="13" fill="#f0101a"/>
<path d="M2505 3408H2542" stroke="#f0303a" stroke-width="7" fill="none"/><path d="M2542 3408H2578" stroke="#3a3ae8" stroke-width="7" fill="none"/>
<circle cx="2542" cy="3475" r="20" fill="none" stroke="#cfcfcf" stroke-width="10"/>
</svg>
</body></html>
